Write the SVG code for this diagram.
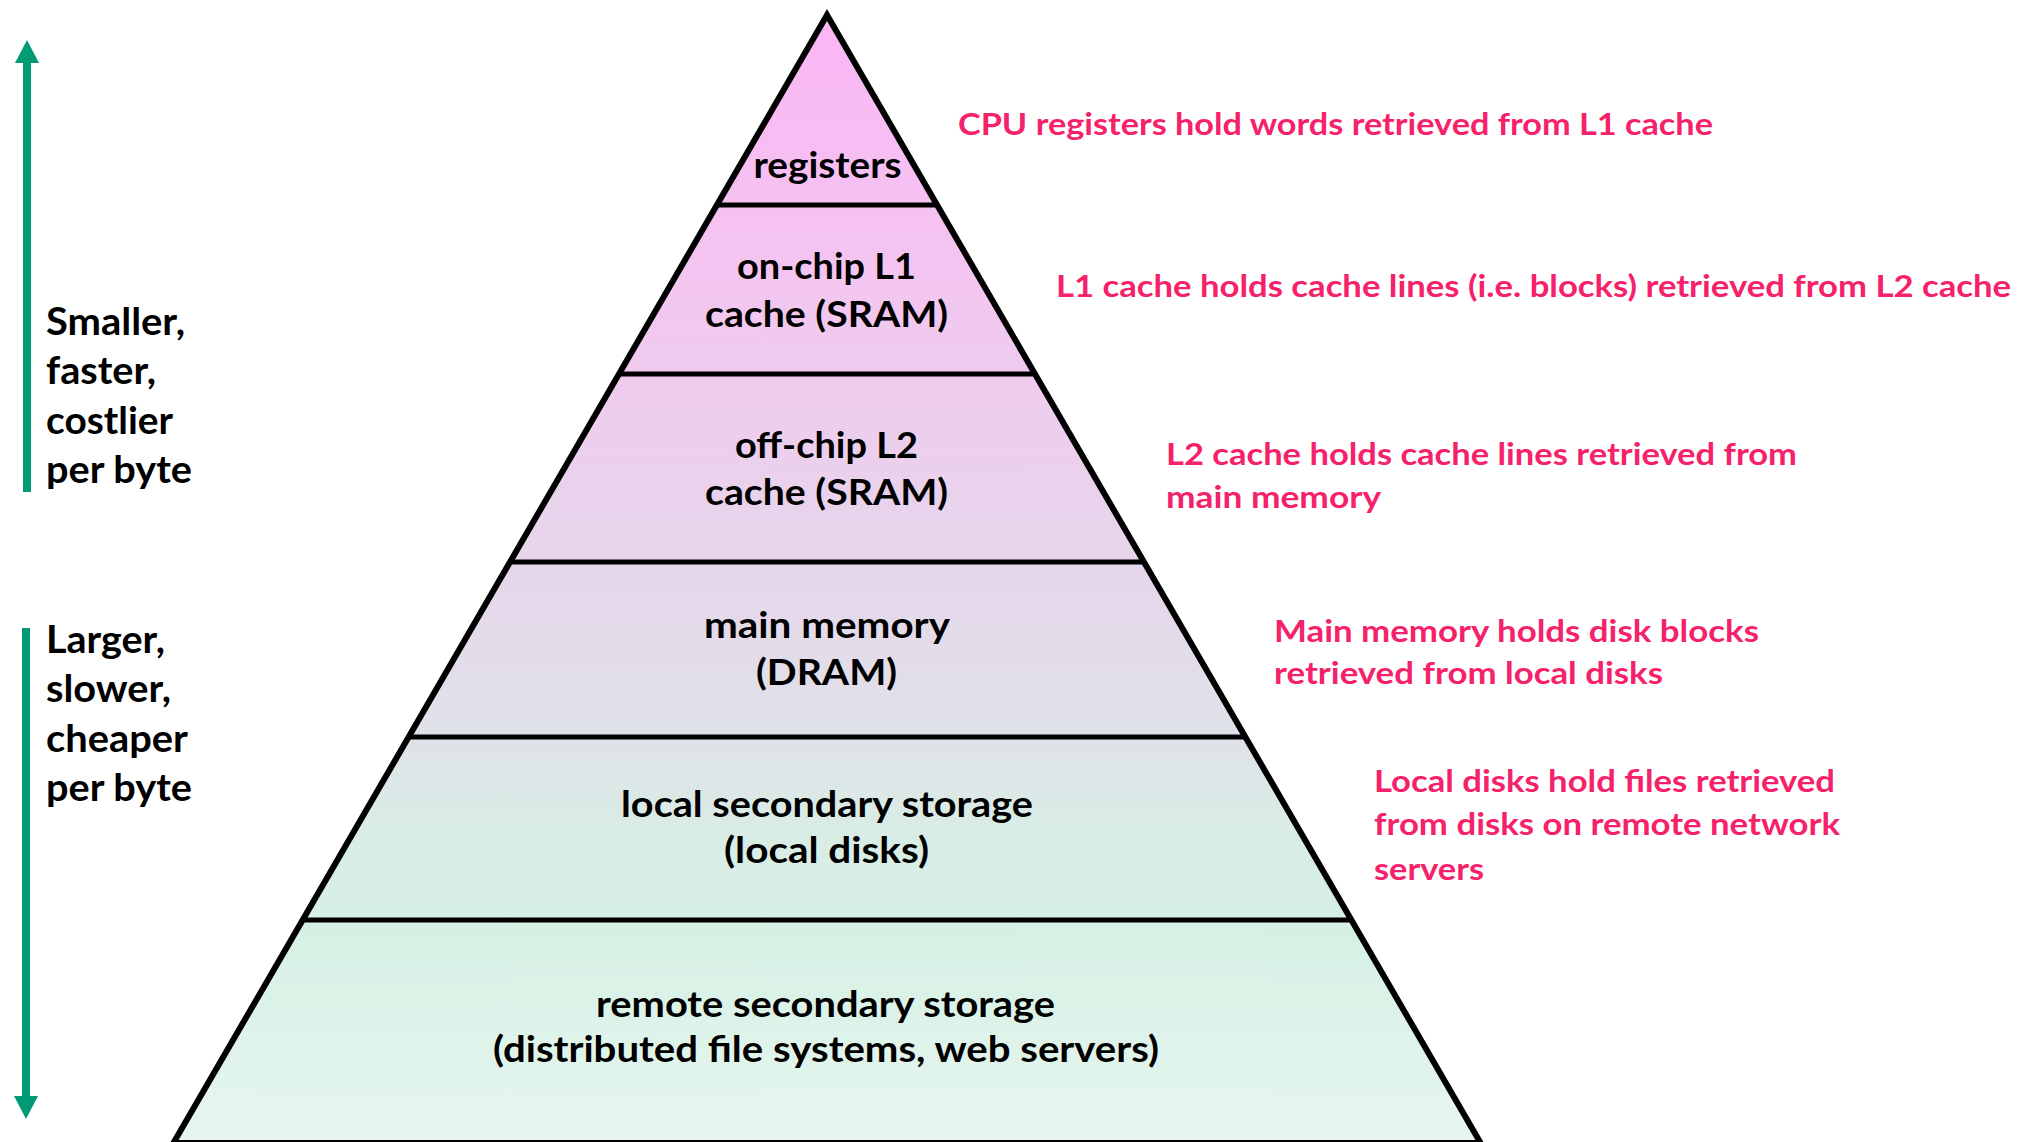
<svg xmlns="http://www.w3.org/2000/svg" width="2039" height="1142" viewBox="0 0 2039 1142">
  <style>
    .lbl { font-family: Lato, "Open Sans", "Liberation Sans", sans-serif; font-weight: 700; font-size: 37px; fill: #000; }
    .side { font-family: Lato, "Open Sans", "Liberation Sans", sans-serif; font-weight: 700; font-size: 38px; fill: #000; }
    .note { font-family: Lato, "Open Sans", "Liberation Sans", sans-serif; font-weight: 700; font-size: 30px; fill: #f5226b; }
    .band { stroke: none; fill: url(#pyr); }
    .div { stroke: #000; stroke-width: 5; }
    .outline { fill: none; stroke: #000; stroke-width: 6; stroke-linejoin: miter; }
    .arrow { stroke: #009b74; stroke-width: 8; fill: none; }
  </style>
  <defs>
    <linearGradient id="pyr" gradientUnits="userSpaceOnUse" x1="0" y1="15" x2="0" y2="1143">
      <stop offset="0" stop-color="#fab6f5"/>
      <stop offset="0.17" stop-color="#f6c1f1"/>
      <stop offset="0.32" stop-color="#efcbee"/>
      <stop offset="0.49" stop-color="#e6d6eb"/>
      <stop offset="0.64" stop-color="#dfe2e8"/>
      <stop offset="0.72" stop-color="#d9ece6"/>
      <stop offset="0.81" stop-color="#d6f0e4"/>
      <stop offset="1" stop-color="#e6f6ef"/>
    </linearGradient>
    <marker id="head" viewBox="0 0 23 24" refX="0" refY="12" markerWidth="23" markerHeight="24" markerUnits="userSpaceOnUse" orient="auto">
      <path d="M0,0 L23,12 L0,24 Z" fill="#009b74"/>
    </marker>
  </defs>

  <g id="registers">
    <polygon class="band" points="827,15 937.1,205 716.9,205"/>
    <text class="lbl" x="753.5" y="178" textLength="148" lengthAdjust="spacingAndGlyphs">registers</text>
  </g>
  <g id="l1-cache">
    <polygon class="band" points="716.9,205 937.1,205 1035,374 619,374"/>
    <text class="lbl" x="737" y="279" textLength="179" lengthAdjust="spacingAndGlyphs">on-chip L1</text>
    <text class="lbl" x="705" y="327" textLength="243" lengthAdjust="spacingAndGlyphs">cache (SRAM)</text>
  </g>
  <g id="l2-cache">
    <polygon class="band" points="619,374 1035,374 1144,562 510,562"/>
    <text class="lbl" x="735" y="458" textLength="183" lengthAdjust="spacingAndGlyphs">off-chip L2</text>
    <text class="lbl" x="705" y="505" textLength="243" lengthAdjust="spacingAndGlyphs">cache (SRAM)</text>
  </g>
  <g id="main-memory">
    <polygon class="band" points="510,562 1144,562 1245.3,737 408.7,737"/>
    <text class="lbl" x="704" y="638" textLength="246" lengthAdjust="spacingAndGlyphs">main memory</text>
    <text class="lbl" x="756" y="685" textLength="141" lengthAdjust="spacingAndGlyphs">(DRAM)</text>
  </g>
  <g id="local-storage">
    <polygon class="band" points="408.7,737 1245.3,737 1351.4,920 302.6,920"/>
    <text class="lbl" x="621" y="817" textLength="412" lengthAdjust="spacingAndGlyphs">local secondary storage</text>
    <text class="lbl" x="724" y="863" textLength="205" lengthAdjust="spacingAndGlyphs">(local disks)</text>
  </g>
  <g id="remote-storage">
    <polygon class="band" points="302.6,920 1351.4,920 1480.6,1143 173.4,1143"/>
    <text class="lbl" x="596" y="1017" textLength="459" lengthAdjust="spacingAndGlyphs">remote secondary storage</text>
    <text class="lbl" x="493" y="1062" textLength="666" lengthAdjust="spacingAndGlyphs">(distributed file systems, web servers)</text>
  </g>

  <g id="dividers">
    <line class="div" x1="716.9" y1="205" x2="937.1" y2="205"/>
    <line class="div" x1="619" y1="374" x2="1035" y2="374"/>
    <line class="div" x1="510" y1="562" x2="1144" y2="562"/>
    <line class="div" x1="408.7" y1="737" x2="1245.3" y2="737"/>
    <line class="div" x1="302.6" y1="920" x2="1351.4" y2="920"/>
    <path class="outline" d="M827,15 L1480.6,1143 L173.4,1143 Z"/>
  </g>

  <g id="notes">
    <text class="note" x="958" y="135" textLength="755" lengthAdjust="spacingAndGlyphs">CPU registers hold words retrieved from L1 cache</text>
    <text class="note" x="1056" y="297" textLength="955" lengthAdjust="spacingAndGlyphs">L1 cache holds cache lines (i.e. blocks) retrieved from L2 cache</text>
    <text class="note" x="1166" y="465" textLength="631" lengthAdjust="spacingAndGlyphs">L2 cache holds cache lines retrieved from</text>
    <text class="note" x="1166" y="508" textLength="215" lengthAdjust="spacingAndGlyphs">main memory</text>
    <text class="note" x="1274" y="642" textLength="485" lengthAdjust="spacingAndGlyphs">Main memory holds disk blocks</text>
    <text class="note" x="1274" y="684" textLength="389" lengthAdjust="spacingAndGlyphs">retrieved from local disks</text>
    <text class="note" x="1374" y="792" textLength="461" lengthAdjust="spacingAndGlyphs">Local disks hold files retrieved</text>
    <text class="note" x="1374" y="835" textLength="466" lengthAdjust="spacingAndGlyphs">from disks on remote network</text>
    <text class="note" x="1374" y="880" textLength="110" lengthAdjust="spacingAndGlyphs">servers</text>
  </g>

  <g id="label-smaller">
    <text class="side" x="46" y="335" textLength="139" lengthAdjust="spacingAndGlyphs">Smaller,</text>
    <text class="side" x="46" y="384" textLength="110" lengthAdjust="spacingAndGlyphs">faster,</text>
    <text class="side" x="46" y="434" textLength="127" lengthAdjust="spacingAndGlyphs">costlier</text>
    <text class="side" x="46" y="483" textLength="146" lengthAdjust="spacingAndGlyphs">per byte</text>
  </g>
  <g id="label-larger">
    <text class="side" x="46" y="653" textLength="119" lengthAdjust="spacingAndGlyphs">Larger,</text>
    <text class="side" x="46" y="702" textLength="125" lengthAdjust="spacingAndGlyphs">slower,</text>
    <text class="side" x="46" y="752" textLength="142" lengthAdjust="spacingAndGlyphs">cheaper</text>
    <text class="side" x="46" y="801" textLength="146" lengthAdjust="spacingAndGlyphs">per byte</text>
  </g>

  <g id="connectors">
    <line class="arrow" x1="27" y1="492" x2="27" y2="63" marker-end="url(#head)"/>
    <line class="arrow" x1="26" y1="628" x2="26" y2="1096" marker-end="url(#head)"/>
  </g>
</svg>
